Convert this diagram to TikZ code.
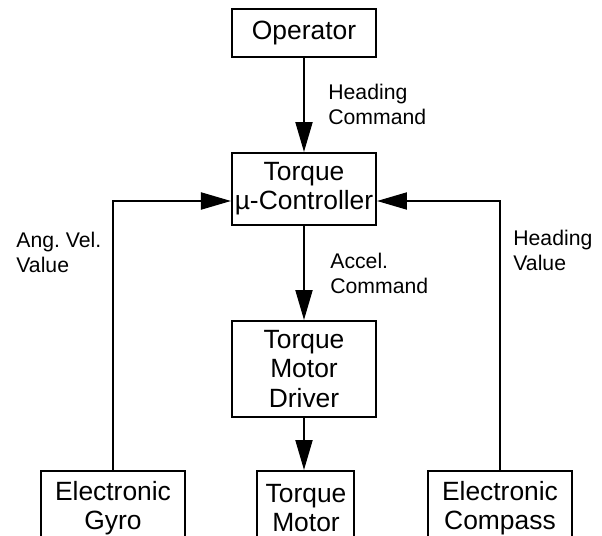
\documentclass[tikz,border=0pt]{standalone}
\usepackage{fontspec}
\setmainfont{Liberation Sans}
\usepackage{tikz}
\usetikzlibrary{arrows.meta,positioning}
\frenchspacing

\begin{document}
\begin{tikzpicture}[
    x=0.5pt, y=-0.5pt,
    block/.style={rectangle, draw=black, line width=1pt, inner sep=0pt, minimum width=72pt, align=center, font=\fontsize{13.2}{14.6}\selectfont},
    lbl/.style={anchor=west, inner sep=0pt, align=left, font=\fontsize{10.6}{12.5}\selectfont},
    arr/.style={-{Triangle[length=15pt, width=8.5pt]}, line width=1pt},
  ]
    \useasboundingbox (0,0) rectangle (602,536);
    \clip (0,0) rectangle (602,536);

    % --- main chain ---
    \node[block, minimum height=24pt] (oper) at (304,33) {Operator};
    \node[block, minimum height=36pt] (ctrl) at (304,189) {Torque\\µ-Controller};
    \node[block, minimum height=48pt] (drv) at (304,369) {Torque\\Motor\\Driver};

    % --- bottom row (cut off by the page) ---
    \node[block, minimum height=37pt] (gyro) at (113,508) {Electronic\\Gyro};
    \node[block, minimum width=48.5pt, minimum height=37pt] (motor) at (306,508) {Torque\\Motor};
    \node[block, minimum height=37pt] (comp) at (500,508) {Electronic\\Compass};

    \draw[arr] (oper) -- (ctrl);
    \draw[arr] (ctrl) -- (drv);
    \draw[arr] (drv.south) -- (drv.south |- motor.north);

    % Feedback
    \draw[arr] (gyro.north) |- ([yshift=-6pt]ctrl.west);
    \draw[arr] (comp.north) |- ([yshift=-6pt]ctrl.east);

    % Labels
    \node[lbl] (lcmd) at (328,104) {Heading\\Command};
    \node[lbl] (lacc) at (330,273) {Accel.\\Command};
    \node[lbl] (lang) at (16,252) {Ang. Vel.\\Value};
    \node[lbl] (lhdg) at (513,250) {Heading\\Value};

\end{tikzpicture}
\end{document}
